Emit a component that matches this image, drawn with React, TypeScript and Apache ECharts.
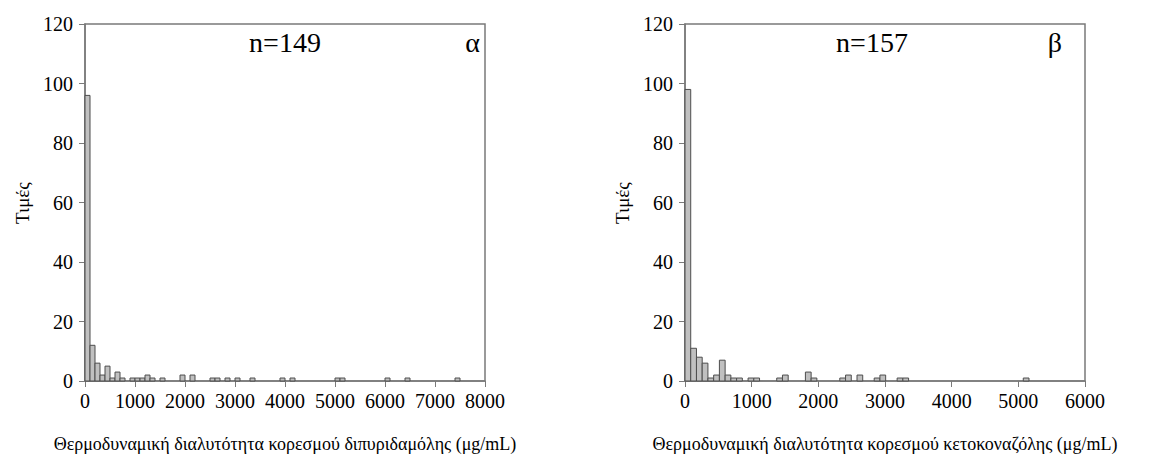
import React, { useEffect, useRef } from "react";
import * as echarts from "echarts";

// Left histogram (dipyridamole), bin width 100 μg/mL
const leftBinWidth = 100;
const leftBinIndex = [0, 1, 2, 3, 4, 5, 6, 7, 9, 10, 11, 12, 13, 15, 19, 21, 25, 26, 28, 30, 33, 39, 41, 50, 51, 60, 64, 74];
const leftCounts = [96, 12, 6, 2, 5, 1, 3, 1, 1, 1, 1, 2, 1, 1, 2, 2, 1, 1, 1, 1, 1, 1, 1, 1, 1, 1, 1, 1];

// Right histogram (ketoconazole)
const rightBinWidth = 86;
const rightBinIndex = [0, 1, 2, 3, 4, 5, 6, 7, 8, 9, 11, 12, 16, 17, 21, 22, 27, 28, 30, 33, 34, 37, 38, 59];
const rightCounts = [98, 11, 8, 6, 1, 2, 7, 2, 1, 1, 1, 1, 1, 2, 3, 1, 1, 2, 2, 1, 2, 1, 1, 1];

const yTicks = [0, 20, 40, 60, 80, 100, 120];
const leftXMax = 8000;
const rightXMax = 6000;
const xInterval = 1000;

const yName = "Τιμές";
const leftXName = "Θερμοδυναμική διαλυτότητα κορεσμού διπυριδαμόλης (μg/mL)";
const rightXName = "Θερμοδυναμική διαλυτότητα κορεσμού κετοκοναζόλης (μg/mL)";
const leftN = "n=149";
const rightN = "n=157";
const leftTag = "α";
const rightTag = "β";

const FONT = "Liberation Serif";
const LABEL_FONT = "Times New Roman, serif";

function buildBins(idx: number[], counts: number[], w: number) {
  return idx.map((k, i) => [k * w, (k + 1) * w, counts[i]]);
}

function renderBar(params: any, api: any) {
  const x0 = api.value(0);
  const x1 = api.value(1);
  const v = api.value(2);
  const p0 = api.coord([x0, v]);
  const p1 = api.coord([x1, 0]);
  return {
    type: "rect",
    shape: { x: p0[0], y: p0[1], width: p1[0] - p0[0], height: p1[1] - p0[1] },
    style: { fill: "#c0c0c0", stroke: "#4d4d4d", lineWidth: 1 },
  };
}

function xAxis(gridIndex: number, max: number) {
  return {
    type: "value",
    gridIndex,
    min: 0,
    max,
    interval: xInterval,
    axisLine: { show: true, lineStyle: { color: "#7a7a7a", width: 1.5 } },
    axisTick: { show: true, inside: false, length: 6, lineStyle: { color: "#7a7a7a" } },
    axisLabel: { margin: 10, fontFamily: LABEL_FONT, fontSize: 20, color: "#000", formatter: (v: number) => String(v) },
    splitLine: { show: false },
  };
}

function yAxis(gridIndex: number) {
  return {
    type: "value",
    gridIndex,
    min: yTicks[0],
    max: yTicks[yTicks.length - 1],
    interval: yTicks[1] - yTicks[0],
    axisLine: { show: true, lineStyle: { color: "#7a7a7a", width: 1.5 } },
    axisTick: { show: true, inside: false, length: 6, lineStyle: { color: "#7a7a7a" } },
    axisLabel: { margin: 12, fontFamily: LABEL_FONT, fontSize: 20, color: "#000" },
    splitLine: { show: false },
  };
}

export default function App() {
  const ref = useRef<HTMLDivElement>(null);
  useEffect(() => {
    if (!ref.current) return;
    const chart = echarts.init(ref.current, null, { renderer: "svg" });
    chart.setOption({
      animation: false,
      backgroundColor: "#fff",
      textStyle: { fontFamily: FONT },
      grid: [
        { left: 85, top: 24, width: 400, height: 357, show: true, borderColor: "#7a7a7a", borderWidth: 1.5, backgroundColor: "transparent" },
        { left: 685, top: 24, width: 400, height: 357, show: true, borderColor: "#7a7a7a", borderWidth: 1.5, backgroundColor: "transparent" },
      ],
      xAxis: [xAxis(0, leftXMax), xAxis(1, rightXMax)],
      yAxis: [yAxis(0), yAxis(1)],
      graphic: [
        { type: "text", x: 285, y: 42, style: { text: leftN, fontFamily: FONT, fontSize: 28, fill: "#000", align: "center", verticalAlign: "middle" } },
        { type: "text", x: 480, y: 42, style: { text: leftTag, fontFamily: FONT, fontSize: 28, fill: "#000", align: "right", verticalAlign: "middle" } },
        { type: "text", x: 872, y: 42, style: { text: rightN, fontFamily: FONT, fontSize: 28, fill: "#000", align: "center", verticalAlign: "middle" } },
        { type: "text", x: 1062, y: 42, style: { text: rightTag, fontFamily: FONT, fontSize: 28, fill: "#000", align: "right", verticalAlign: "middle" } },
        { type: "text", x: 285, y: 444, style: { text: leftXName, fontFamily: FONT, fontSize: 18, fill: "#000", align: "center", verticalAlign: "middle" } },
        { type: "text", x: 885, y: 444, style: { text: rightXName, fontFamily: FONT, fontSize: 18, fill: "#000", align: "center", verticalAlign: "middle" } },
        { type: "text", x: 22, y: 203, rotation: Math.PI / 2, style: { text: yName, fontFamily: FONT, fontSize: 19, fill: "#000", align: "center", verticalAlign: "middle" } },
        { type: "text", x: 622, y: 203, rotation: Math.PI / 2, style: { text: yName, fontFamily: FONT, fontSize: 19, fill: "#000", align: "center", verticalAlign: "middle" } },
      ],
      series: [
        {
          type: "custom",
          xAxisIndex: 0,
          yAxisIndex: 0,
          renderItem: renderBar,
          encode: { x: [0, 1], y: 2 },
          data: buildBins(leftBinIndex, leftCounts, leftBinWidth),
        },
        {
          type: "custom",
          xAxisIndex: 1,
          yAxisIndex: 1,
          renderItem: renderBar,
          encode: { x: [0, 1], y: 2 },
          data: buildBins(rightBinIndex, rightCounts, rightBinWidth),
        },
      ],
    });
    return () => chart.dispose();
  }, []);
  return <div ref={ref} style={{ position: "fixed", left: 0, top: 0, width: 1150, height: 468 }} />;
}
